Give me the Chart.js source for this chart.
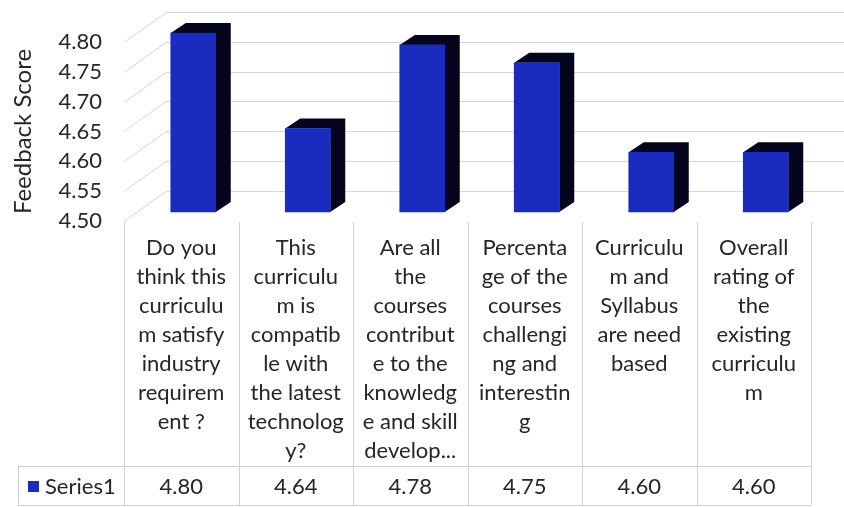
<!DOCTYPE html>
<html>
<head>
<meta charset="utf-8">
<script src="https://cdn.jsdelivr.net/npm/chart.js@4.4.1/dist/chart.umd.min.js"></script>
<style>
  html, body { margin: 0; padding: 0; background: #fff; }
  #wrap { width: 844px; height: 507px; }
</style>
</head>
<body>
<div id="wrap"><canvas id="feedbackChart" width="844" height="507"></canvas></div>
<script>
// category text, already broken into lines the way the table shows it
const questionLines = [
  ['Do you', 'think this', 'curriculu', 'm satisfy', 'industry', 'requirem', 'ent ?'],
  ['This', 'curriculu', 'm is', 'compatib', 'le with', 'the latest', 'technolog', 'y?'],
  ['Are all', 'the', 'courses', 'contribut', 'e to the', 'knowledg', 'e and skill', 'develop...'],
  ['Percenta', 'ge of the', 'courses', 'challengi', 'ng and', 'interestin', 'g'],
  ['Curriculu', 'm and', 'Syllabus', 'are need', 'based'],
  ['Overall', 'rating of', 'the', 'existing', 'curriculu', 'm']
];
const seriesName = 'Series1';
const scores = [4.80, 4.64, 4.78, 4.75, 4.60, 4.60];
const scoreMin = 4.50;
const scoreMax = 4.80;
const scoreStep = 0.05;

const FONT = 'Lato, "Open Sans", sans-serif';
const TEXT = '#262626';
const BLUE = '#1a2bbf';
const DARK = '#04041c';

// depth of the walls and of the bars for the fake 3d look
const WALL_DX = 42, WALL_DY = -30;
const BAR_SHIFT_X = 12, BAR_SHIFT_Y = -9;
const BAR_DX = 15, BAR_DY = -10;

const walls3d = {
  id: 'walls3d',
  beforeDatasetsDraw(chart) {
    const ctx = chart.ctx;
    const y = chart.scales.y;
    const area = chart.chartArea;
    ctx.save();
    ctx.strokeStyle = '#d6d6d6';
    ctx.lineWidth = 1;
    y.ticks.forEach(t => {
      const py = Math.round(y.getPixelForValue(t.value)) + 0.5;
      ctx.beginPath();
      ctx.moveTo(area.left, py);
      ctx.lineTo(area.left + WALL_DX, py + WALL_DY);
      ctx.lineTo(chart.width, py + WALL_DY);
      ctx.stroke();
    });
    ctx.restore();

    // bars sit in the middle of the floor, draw their top and side faces
    ctx.save();
    ctx.translate(BAR_SHIFT_X, BAR_SHIFT_Y);
    ctx.fillStyle = DARK;
    chart.getDatasetMeta(0).data.forEach(bar => {
      const p = bar.getProps(['x', 'y', 'base', 'width'], true);
      const l = p.x - p.width / 2, r = p.x + p.width / 2;
      ctx.beginPath();
      ctx.moveTo(l, p.y);
      ctx.lineTo(l + BAR_DX, p.y + BAR_DY);
      ctx.lineTo(r + BAR_DX, p.y + BAR_DY);
      ctx.lineTo(r + BAR_DX, p.base + BAR_DY);
      ctx.lineTo(r, p.base);
      ctx.lineTo(r, p.y);
      ctx.closePath();
      ctx.fill();
    });
  },
  afterDatasetsDraw(chart) {
    chart.ctx.restore();
  }
};

const dataTable = {
  id: 'dataTable',
  afterDraw(chart) {
    const ctx = chart.ctx;
    const x = chart.scales.x;
    const area = chart.chartArea;
    const half = (x.getPixelForValue(1) - x.getPixelForValue(0)) / 2;
    const rowTop = 466, rowBottom = 505, tableLeft = 18;
    ctx.save();
    ctx.strokeStyle = '#d0d0d0';
    ctx.lineWidth = 1;
    ctx.beginPath();
    for (let i = 0; i <= scores.length; i++) {
      const px = Math.round(x.getPixelForValue(i) - half) + 0.5;
      ctx.moveTo(px, area.bottom + 1);
      ctx.lineTo(px, rowBottom);
    }
    ctx.moveTo(tableLeft + 0.5, rowTop);
    ctx.lineTo(tableLeft + 0.5, rowBottom);
    ctx.moveTo(tableLeft, rowTop + 0.5);
    ctx.lineTo(area.right, rowTop + 0.5);
    ctx.moveTo(tableLeft, rowBottom + 0.5);
    ctx.lineTo(area.right, rowBottom + 0.5);
    ctx.stroke();

    ctx.fillStyle = BLUE;
    ctx.fillRect(28, 481, 11, 11);
    ctx.fillStyle = TEXT;
    ctx.font = '22px ' + FONT;
    ctx.textBaseline = 'middle';
    ctx.textAlign = 'left';
    ctx.fillText(seriesName, 45, 487);
    ctx.textAlign = 'center';
    scores.forEach((v, i) => {
      ctx.fillText(v.toFixed(2), x.getPixelForValue(i), 487);
    });
    ctx.restore();
  }
};

new Chart(document.getElementById('feedbackChart'), {
  type: 'bar',
  data: {
    labels: questionLines,
    datasets: [{
      label: seriesName,
      data: scores,
      base: scoreMin,
      backgroundColor: BLUE,
      barThickness: 45,
      clip: false
    }]
  },
  options: {
    responsive: false,
    animation: false,
    layout: { padding: { top: 42, right: 33, left: 0, bottom: 0 } },
    plugins: {
      legend: { display: false },
      tooltip: { enabled: false }
    },
    scales: {
      x: {
        grid: { display: false, drawTicks: false },
        border: { display: false },
        ticks: {
          autoSkip: false,
          maxRotation: 0,
          minRotation: 0,
          padding: 12,
          color: TEXT,
          font: { family: FONT, size: 22, lineHeight: '29px' }
        },
        afterFit(scale) { scale.height = 286; }
      },
      y: {
        min: scoreMin,
        max: scoreMax,
        grid: { display: false, drawTicks: false },
        border: { display: false },
        ticks: {
          stepSize: scoreStep,
          padding: 22,
          color: TEXT,
          font: { family: FONT, size: 22 },
          callback: v => Number(v).toFixed(2)
        },
        title: {
          display: true,
          text: 'Feedback Score',
          color: TEXT,
          padding: { top: 9, bottom: 0 },
          font: { family: FONT, size: 24 }
        },
        afterFit(scale) { scale.width = 124; }
      }
    }
  },
  plugins: [walls3d, dataTable]
});
</script>
</body>
</html>
